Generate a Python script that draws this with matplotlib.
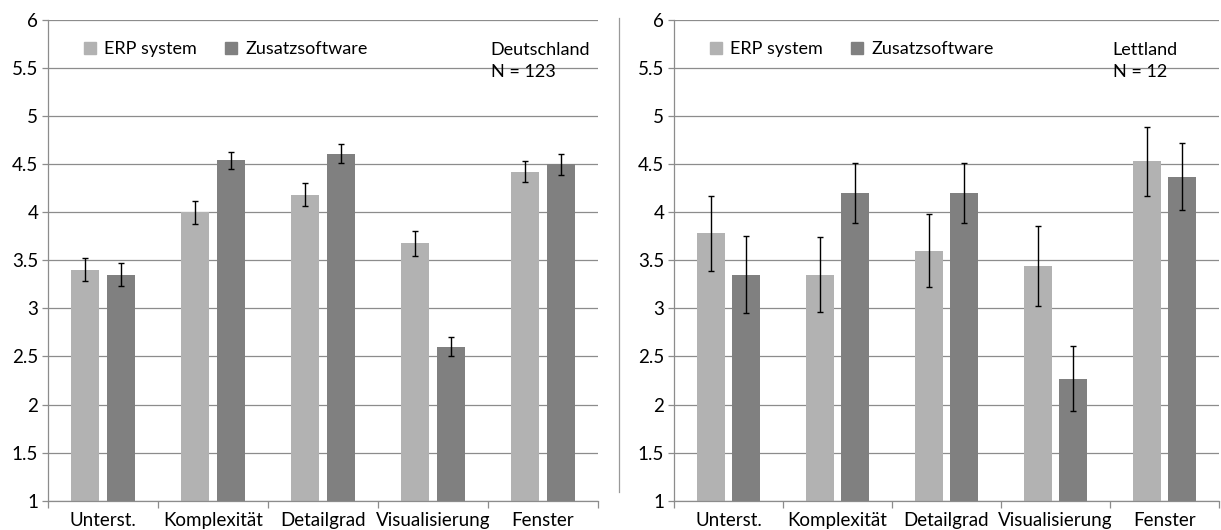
import numpy as np
import matplotlib
matplotlib.use("Agg")
import matplotlib.pyplot as plt
from matplotlib.lines import Line2D

plt.rcParams['font.family'] = ['Lato', 'DejaVu Sans']

categories = ['Unterst.', 'Komplexität', 'Detailgrad', 'Visualisierung', 'Fenster']
series = ['ERP system', 'Zusatzsoftware']

# Deutschland, N = 123
de_erp = [3.40, 4.00, 4.18, 3.68, 4.42]
de_erp_err = [0.12, 0.12, 0.12, 0.13, 0.11]
de_zus = [3.35, 4.54, 4.61, 2.60, 4.50]
de_zus_err = [0.12, 0.09, 0.10, 0.10, 0.11]

# Lettland, N = 12
lv_erp = [3.78, 3.35, 3.60, 3.44, 4.53]
lv_erp_err = [0.39, 0.39, 0.38, 0.42, 0.36]
lv_zus = [3.35, 4.20, 4.20, 2.27, 4.37]
lv_zus_err = [0.40, 0.31, 0.31, 0.34, 0.35]

c_erp = '#b2b2b2'
c_zus = '#808080'
grid_c = '#8c8c8c'

fig = plt.figure(figsize=(12.21, 5.30), dpi=100)
ax1 = fig.add_axes([0.0393, 0.0553, 0.4505, 0.907])
ax2 = fig.add_axes([0.552, 0.0553, 0.4464, 0.907])


def draw(ax, erp, erp_err, zus, zus_err, land, n):
    x = np.arange(len(categories))
    w = 0.256
    off = 0.164
    ax.bar(x - off, erp, w, bottom=0, color=c_erp, zorder=2)
    ax.bar(x + off, zus, w, bottom=0, color=c_zus, zorder=2)
    ax.errorbar(x - off, erp, yerr=erp_err, fmt='none', ecolor='black',
                elinewidth=1, capsize=2, capthick=1, zorder=3)
    ax.errorbar(x + off, zus, yerr=zus_err, fmt='none', ecolor='black',
                elinewidth=1, capsize=2, capthick=1, zorder=3)
    ax.set_ylim(1, 6)
    ax.set_xlim(-0.5, len(categories) - 0.5)
    ax.set_yticks(np.arange(1, 6.01, 0.5))
    ax.set_yticklabels(['1', '1.5', '2', '2.5', '3', '3.5', '4', '4.5', '5', '5.5', '6'])
    ax.yaxis.grid(True, color=grid_c, linewidth=0.9, zorder=0)
    ax.set_axisbelow(True)
    # category labels at centers, tick marks at boundaries
    ax.set_xticks(x)
    ax.set_xticklabels(categories)
    ax.set_xticks(np.arange(-0.5, len(categories)), minor=True)
    ax.tick_params(axis='x', which='major', length=0, labelsize=13.5, pad=8)
    ax.tick_params(axis='x', which='minor', length=5, color=grid_c, width=0.9)
    ax.tick_params(axis='y', length=4, color=grid_c, width=0.9, labelsize=13.5, pad=3)
    for s in ['top', 'right']:
        ax.spines[s].set_visible(False)
    for s in ['left', 'bottom']:
        ax.spines[s].set_color(grid_c)
        ax.spines[s].set_linewidth(0.9)
    handles = [Line2D([], [], marker='s', linestyle='none', markersize=8,
                      color=c) for c in (c_erp, c_zus)]
    ax.legend(handles, series, loc='upper left', bbox_to_anchor=(0.03, 0.99),
              ncol=2, frameon=False, fontsize=13, handletextpad=0.3,
              columnspacing=1.4, handlelength=1.0)
    ax.text(0.805, 0.915, land + '\nN = ' + str(n), transform=ax.transAxes,
            fontsize=13, va='center', ha='left', linespacing=1.45)


draw(ax1, de_erp, de_erp_err, de_zus, de_zus_err, 'Deutschland', 123)
draw(ax2, lv_erp, lv_erp_err, lv_zus, lv_zus_err, 'Lettland', 12)

# thin separator between the two panels
fig.add_artist(Line2D([619 / 1221, 619 / 1221], [1 - 18 / 530, 1 - 492 / 530],
                      transform=fig.transFigure, color='#999999', linewidth=0.9))

fig.savefig('out.png', dpi=100)
